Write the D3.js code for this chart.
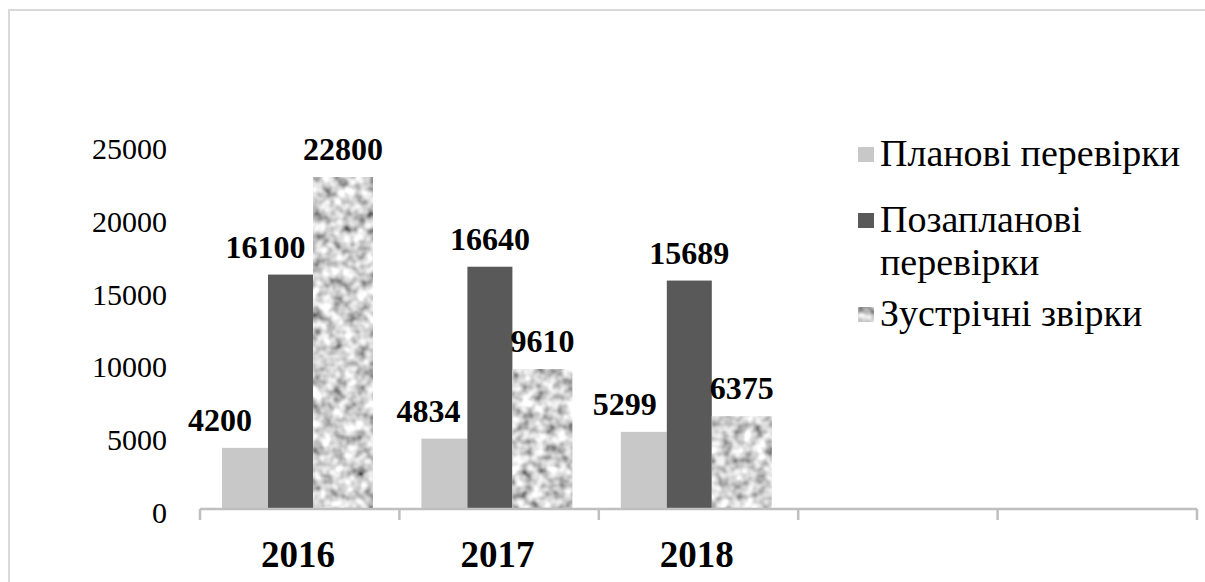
<!DOCTYPE html>
<html>
<head>
<meta charset="utf-8">
<script src="https://cdn.jsdelivr.net/npm/d3@7"></script>
<style>
  body { margin: 0; background: #fff; }
</style>
</head>
<body>
<svg id="chart" width="1205" height="582"></svg>
<script>
// categories (the last two slots are empty in the original chart)
var years = ["2016", "2017", "2018", "", " "];
var series = ["Планові перевірки", "Позапланові перевірки", "Зустрічні звірки"];
var planned = [4200, 4834, 5299];
var unplanned = [16100, 16640, 15689];
var crossChecks = [22800, 9610, 6375];
var yTicks = [0, 5000, 10000, 15000, 20000, 25000];

var values = [planned, unplanned, crossChecks];
var serif = "Liberation Serif";

var svg = d3.select("#chart");

// outer frame
svg.append("rect")
  .attr("x", 9).attr("y", 10)
  .attr("width", 1210).attr("height", 600)
  .attr("fill", "none")
  .attr("stroke", "#d9d9d9")
  .attr("stroke-width", 2);

// granite-like texture for the third series
var defs = svg.append("defs");
var f = defs.append("filter").attr("id", "granite")
  .attr("x", 0).attr("y", 0).attr("width", 1).attr("height", 1);
f.append("feTurbulence")
  .attr("type", "fractalNoise")
  .attr("baseFrequency", 0.09)
  .attr("numOctaves", 2)
  .attr("seed", 7)
  .attr("result", "noise");
f.append("feColorMatrix")
  .attr("in", "noise")
  .attr("type", "matrix")
  .attr("values", "1.5 0 0 0 -0.1  1.5 0 0 0 -0.1  1.5 0 0 0 -0.1  0 0 0 0 1")
  .attr("result", "gray");
f.append("feGaussianBlur").attr("in", "gray").attr("stdDeviation", 0.6).attr("result", "soft");
f.append("feComposite")
  .attr("in", "soft")
  .attr("in2", "SourceAlpha")
  .attr("operator", "in");

var colors = ["#c8c8c8", "#595959", "#a8a8a8"];

var x = d3.scaleBand().domain(years).range([200, 1197]);
var y = d3.scaleLinear().domain([0, 25000]).range([509, 145]);

// bar offsets / widths inside a category (third bar is wider in the original)
var barOffset = d3.scaleOrdinal().domain([0, 1, 2]).range([22, 68, 113]);
var barWidth = d3.scaleOrdinal().domain([0, 1, 2]).range([46, 45, 60]);

// y axis labels (no axis line)
var yAxis = svg.append("g")
  .attr("transform", "translate(167,0)")
  .call(d3.axisLeft(y).tickValues(yTicks).tickFormat(d3.format("d")).tickSize(0).tickPadding(0));
yAxis.attr("font-family", null).attr("font-size", null);
yAxis.select(".domain").remove();
yAxis.selectAll("text")
  .attr("dy", "0.45em")
  .attr("font-family", serif)
  .attr("font-size", 30)
  .attr("fill", "#000");

// bars
var bars = [];
values.forEach(function(vals, s) {
  vals.forEach(function(v, i) {
    bars.push({ s: s, year: years[i], value: v });
  });
});

svg.append("g").selectAll("rect")
  .data(bars)
  .enter().append("rect")
  .attr("x", function(d) { return x(d.year) + barOffset(d.s); })
  .attr("y", function(d) { return y(d.value); })
  .attr("width", function(d) { return barWidth(d.s); })
  .attr("height", function(d) { return y(0) - y(d.value); })
  .attr("fill", function(d) { return colors[d.s]; })
  .attr("filter", function(d) { return d.s == 2 ? "url(#granite)" : null; });

// x axis
var xAxis = svg.append("g")
  .attr("transform", "translate(0,509)")
  .call(d3.axisBottom(x).tickSize(0).tickPadding(0));
xAxis.attr("font-family", null).attr("font-size", null);
xAxis.select(".domain").remove();
xAxis.selectAll(".tick").remove();
xAxis.append("path")
  .attr("d", "M" + x.range()[0] + ",0H" + x.range()[1])
  .attr("stroke", "#bfbfbf").attr("stroke-width", 2.5).attr("fill", "none");
var edges = years.map(function(d) { return x(d); }).concat([x.range()[1]]);
xAxis.selectAll(".edge")
  .data(edges)
  .enter().append("line")
  .attr("class", "edge")
  .attr("x1", function(d) { return d; }).attr("x2", function(d) { return d; })
  .attr("y1", 0).attr("y2", 11)
  .attr("stroke", "#bfbfbf").attr("stroke-width", 2.5);
xAxis.selectAll(".yr")
  .data(years.slice(0, 3))
  .enter().append("text")
  .attr("class", "yr")
  .attr("x", function(d) { return x(d) + 98; })
  .attr("y", 58)
  .attr("text-anchor", "middle")
  .attr("font-family", serif)
  .attr("font-size", 37)
  .attr("font-weight", "bold")
  .attr("fill", "#000")
  .text(function(d) { return d; });

// value labels, nudged left where Excel moved them to avoid overlap
var nudge = { "0-2016": -25, "1-2016": -25, "0-2017": -16, "0-2018": -19 };
svg.append("g").selectAll("text")
  .data(bars)
  .enter().append("text")
  .attr("x", function(d) {
    return x(d.year) + barOffset(d.s) + barWidth(d.s) / 2 + (nudge[d.s + "-" + d.year] || 0);
  })
  .attr("y", function(d) { return y(d.value) - 17; })
  .attr("text-anchor", "middle")
  .attr("font-family", serif)
  .attr("font-size", 32)
  .attr("font-weight", "bold")
  .attr("fill", "#000")
  .text(function(d) { return d.value; });

// legend
var legendY = [155, 221, 315];
var legend = svg.append("g").selectAll("g")
  .data(series)
  .enter().append("g")
  .attr("transform", function(d, i) { return "translate(858," + legendY[i] + ")"; });
legend.append("rect")
  .attr("x", 0).attr("y", -8)
  .attr("width", 16).attr("height", 15)
  .attr("fill", function(d, i) { return colors[i]; })
  .attr("filter", function(d, i) { return i == 2 ? "url(#granite)" : null; });
legend.append("text")
  .attr("x", 22)
  .attr("y", 11)
  .attr("font-family", serif)
  .attr("font-size", 38)
  .attr("fill", "#000")
  .each(function(d, i) {
    var t = d3.select(this);
    if (i == 1) {
      t.append("tspan").attr("x", 22).text("Позапланові");
      t.append("tspan").attr("x", 22).attr("dy", 43).text("перевірки");
    } else {
      t.text(d);
    }
  });
</script>
</body>
</html>
